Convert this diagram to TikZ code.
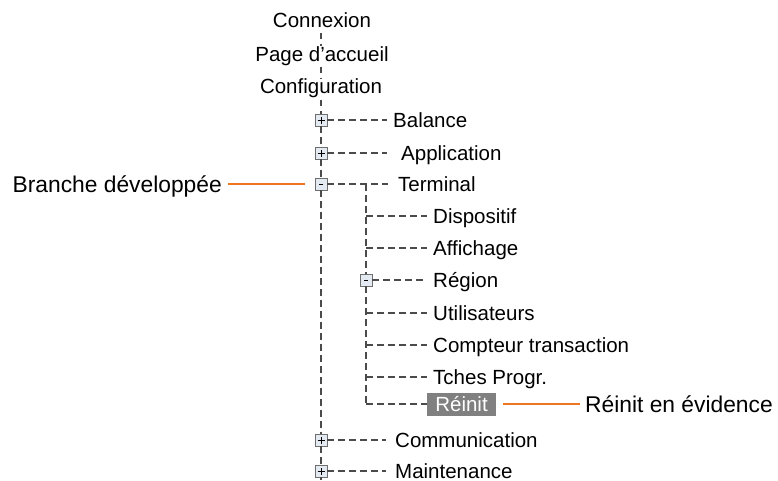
\documentclass[tikz,border=0pt]{standalone}
\usepackage{fontspec}
\setmainfont{Liberation Sans}
\definecolor{linkgray}{RGB}{75,75,75}
\definecolor{boxedge}{RGB}{110,110,110}
\definecolor{boxfill}{RGB}{228,234,242}
\definecolor{markgray}{RGB}{128,128,128}
\definecolor{calloutorange}{RGB}{238,118,35}
\begin{document}
\begin{tikzpicture}[x=1pt, y=-1pt,
  item/.style={anchor=west, inner sep=0pt, text height=14.7pt, text depth=0pt, font=\fontsize{20.5}{24}\selectfont},
  topitem/.style={item, anchor=center},
  note/.style={inner sep=0pt, text height=16.4pt, text depth=0pt, font=\fontsize{22.8}{27}\selectfont},
  link/.style={draw=linkgray, line width=1.1pt, dash pattern=on 6.5pt off 4.5pt},
  treebox/.style={draw=boxedge, fill=boxfill, line width=0.9pt, minimum width=12pt, minimum height=12pt, inner sep=0pt},
  expandbox/.style={treebox, path picture={
      \draw[black, line width=0.8pt] ([xshift=-3.5pt]path picture bounding box.center) -- ([xshift=3.5pt]path picture bounding box.center)
        ([yshift=-3.5pt]path picture bounding box.center) -- ([yshift=3.5pt]path picture bounding box.center);}},
  foldbox/.style={treebox, path picture={
      \draw[black, line width=0.8pt] ([xshift=-2pt]path picture bounding box.center) -- ([xshift=2pt]path picture bounding box.center);}},
  marked/.style={fill=markgray, text=white, inner sep=0pt, minimum width=69pt, minimum height=23pt, text height=14.7pt, text depth=0pt, font=\fontsize{20.5}{24}\selectfont},
  callout/.style={draw=calloutorange, line width=2.4pt}
]
\useasboundingbox (0,0) rectangle (778,480);

\node[topitem] (cx) at (322,20) {Connexion};
\node[topitem] (pa) at (322,54) {Page d’accueil};
\node[topitem] (cf) at (321,86) {Configuration};

\node[expandbox] (b1) at (321,120) {};
\node[expandbox] (b2) at (321,153) {};
\node[foldbox]   (b3) at (321,184) {};
\node[expandbox] (b4) at (321,440) {};
\node[expandbox] (b5) at (321,471) {};
\coordinate (bottom) at (321,480);

\node[item] (bal)  at (393,120) {Balance};
\node[item] (app)  at (401,153) {Application};
\node[item] (term) at (398,184) {Terminal};
\node[item] (com)  at (395,440) {Communication};
\node[item] (mnt)  at (395,471) {Maintenance};

\node[foldbox] (b6) at (366,280) {};
\coordinate (j) at (b3 -| b6);
\coordinate (corner) at (366,404);

\node[item] (dis) at (433,216) {Dispositif};
\node[item] (aff) at (433,248) {Affichage};
\node[item] (reg) at (433,280) {Région};
\node[item] (usr) at (433,313) {Utilisateurs};
\node[item] (cpt) at (433,345) {Compteur transaction};
\node[item] (tch) at (433,377) {Tches Progr.};
\node[marked] (ri) at (461.5,404) {Réinit};

\node[note, anchor=east] (bd) at (222,184) {Branche développée};
\node[note, anchor=west] (re) at (585,404) {Réinit en évidence};

% main branch
\draw[link, shorten <=5pt] (cx.south -| b1) -- (pa.north -| b1);
\draw[link, shorten <=5pt] (pa.south -| b1) -- (cf.north -| b1);
\draw[link, shorten <=6pt] (cf.south -| b1) -- (b1);
\draw[link] (b1) -- (b2);
\draw[link] (b2) -- (b3);
\draw[link] (b3) -- (b4);
\draw[link] (b4) -- (b5);
\draw[link] (b5) -- (bottom);

\draw[link, shorten >=6pt]  (b1) -- (bal);
\draw[link, shorten >=14pt] (b2) -- (app);
\draw[link, shorten >=10pt] (b3) -- (term);
\draw[link, shorten >=9pt]  (b4) -- (com);
\draw[link, shorten >=9pt]  (b5) -- (mnt);

% terminal branch
\draw[link] (j) -- (b6);
\draw[link] (b6) -- (corner);
\draw[link, shorten >=6pt] (j |- dis) -- (dis);
\draw[link, shorten >=6pt] (j |- aff) -- (aff);
\draw[link, shorten >=6pt] (b6) -- (reg);
\draw[link, shorten >=6pt] (j |- usr) -- (usr);
\draw[link, shorten >=6pt] (j |- cpt) -- (cpt);
\draw[link, shorten >=6pt] (j |- tch) -- (tch);
\draw[link] (corner) -- (ri);

\draw[callout, shorten <=6pt, shorten >=10pt] (bd) -- (b3);
\draw[callout, shorten <=7pt, shorten >=5pt] (ri) -- (re);
\end{tikzpicture}
\end{document}
